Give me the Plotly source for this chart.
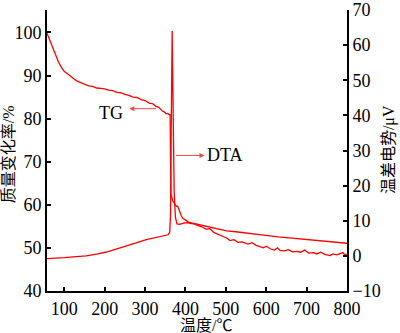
import plotly.graph_objects as go

# TG curve (temperature °C, mass change %)
tg_T = [57, 62, 68, 74, 80, 86, 92, 100, 108, 116, 124, 132, 140, 150, 160, 170, 180, 190, 200,
        210, 220, 230, 240, 250, 260, 270, 280, 290, 300, 310, 318, 326, 334, 342, 348, 352, 356,
        360, 362, 363, 364, 368, 372, 376, 381, 386, 390, 394, 400, 411, 420, 430, 440, 452, 460,
        470, 480, 493, 502, 510, 520, 530, 540, 555, 565, 575, 585, 593, 600, 610, 620, 628, 634,
        645, 655, 665, 676, 685, 695, 705, 717, 725, 735, 745, 758, 765, 775, 785, 790, 795, 800]
tg_val = [99.8, 98.6, 97.0, 95.5, 94.2, 93.0, 92.0, 90.9, 90.4, 89.7, 89.2, 88.7, 88.4, 88.0, 87.6,
          87.5, 87.1, 87.0, 86.9, 86.6, 86.5, 86.1, 86.0, 85.6, 85.4, 85.0, 84.9, 84.4, 84.2, 83.6,
          83.5, 82.9, 82.6, 81.8, 81.5, 81.1, 81.2, 80.9, 80.9, 70.0, 62.5, 61.0, 60.5, 59.8, 59.6,
          58.3, 57.4, 56.8, 56.5, 55.7, 55.6, 55.2, 54.9, 54.3, 54.5, 53.6, 53.2, 52.6, 52.3, 51.7,
          51.9, 51.3, 51.4, 50.9, 51.2, 50.6, 50.3, 50.0, 50.4, 49.8, 49.5, 50.0, 49.4, 49.3, 49.6,
          49.1, 49.2, 49.0, 49.5, 48.8, 48.9, 48.6, 49.0, 48.5, 48.2, 48.6, 48.4, 48.7, 48.9, 48.3, 48.6]

# DTA curve (temperature °C, µV)
dta_T = [57, 80, 100, 130, 154, 180, 204, 230, 253, 280, 303, 330, 357, 361, 363, 365, 367, 368.5,
         370, 372, 375, 379, 385, 395, 410, 430, 444, 470, 502, 530, 560, 593, 630, 676, 720, 758, 800]
dta_val = [-0.8, -0.7, -0.5, -0.2, 0.0, 0.5, 1.1, 2.0, 2.9, 3.8, 4.6, 5.3, 6.0, 6.8, 12, 40, 64, 50,
           30, 18, 11, 9.1, 9.0, 9.3, 9.5, 9.0, 8.6, 7.8, 7.1, 6.8, 6.3, 5.9, 5.4, 4.9, 4.4, 4.0, 3.6]

x_ticks = [100, 200, 300, 400, 500, 600, 700, 800]
y1_ticks = [40, 50, 60, 70, 80, 90, 100]
y2_ticks = [-10, 0, 10, 20, 30, 40, 50, 60, 70]

FONT = "Liberation Serif, 'Times New Roman', 'Noto Sans CJK SC', serif"
RED = "#ff0000"

fig = go.Figure()
fig.add_trace(go.Scatter(x=tg_T, y=tg_val, mode="lines", line=dict(color=RED, width=1.3),
                         yaxis="y", showlegend=False))
fig.add_trace(go.Scatter(x=dta_T, y=dta_val, mode="lines", line=dict(color=RED, width=1.3),
                         yaxis="y2", showlegend=False))

axis_common = dict(showline=True, linecolor="black", linewidth=2, ticks="inside", ticklen=4,
                   tickwidth=1.5, tickcolor="black", showgrid=False, zeroline=False,
                   automargin=False,
                   tickfont=dict(family=FONT, size=18, color="black"))

fig.update_layout(
    width=400, height=333,
    margin=dict(l=47, r=53, t=10, b=42),
    paper_bgcolor="white", plot_bgcolor="white",
    font=dict(family=FONT, color="black"),
    xaxis=dict(range=[57, 800], tickvals=x_ticks, **axis_common),
    yaxis=dict(range=[40, 105.2], tickvals=y1_ticks, **axis_common),
    yaxis2=dict(range=[-10, 70], tickvals=y2_ticks, overlaying="y", side="right", **axis_common),
)

# axis titles
fig.add_annotation(text="质量变化率/%", xref="paper", yref="paper", x=-0.128, y=0.485,
                   xanchor="center", yanchor="middle",
                   textangle=-90, showarrow=False, font=dict(family=FONT, size=16, color="black"))
fig.add_annotation(text="温差电势/μV", xref="paper", yref="paper", x=1.14, y=0.505,
                   xanchor="center", yanchor="middle",
                   textangle=-90, showarrow=False, font=dict(family=FONT, size=16, color="black"))
fig.add_annotation(text="温度/℃", xref="paper", yref="paper", x=0.53, y=-0.085,
                   xanchor="center", yanchor="top", showarrow=False,
                   font=dict(family=FONT, size=16, color="black"))

# TG label and arrow
ARC = "rgb(240,70,70)"
fig.add_annotation(text="TG", x=249, y=81.2, xref="x", yref="y", xanchor="right", showarrow=False,
                   font=dict(family=FONT, size=18, color="black"))
fig.add_annotation(text="", x=261, y=82.3, ax=331, ay=82.3, xref="x", yref="y", axref="x", ayref="y",
                   showarrow=True, arrowhead=2, arrowsize=1, arrowwidth=1, arrowcolor=ARC)
# DTA label and arrow
fig.add_annotation(text="DTA", x=448, y=28.6, xref="x", yref="y2", xanchor="left", showarrow=False,
                   font=dict(family=FONT, size=18, color="black"))
fig.add_annotation(text="", x=447, y=28.6, ax=373, ay=28.6, xref="x", yref="y2", axref="x", ayref="y2",
                   showarrow=True, arrowhead=2, arrowsize=1, arrowwidth=1, arrowcolor=ARC)

fig.write_html("out.html")
